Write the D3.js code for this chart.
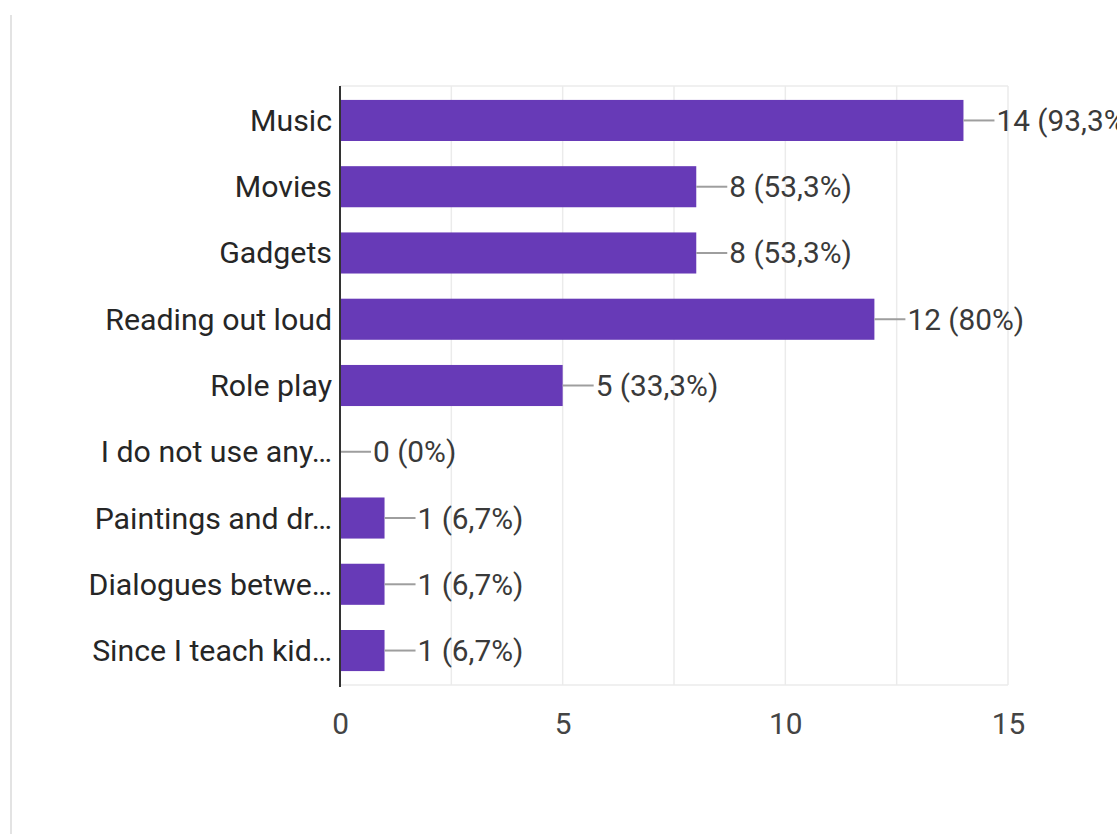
<!DOCTYPE html>
<html>
<head>
<meta charset="utf-8">
<script src="https://cdn.jsdelivr.net/npm/d3@7"></script>
<style>
  html, body { margin: 0; padding: 0; background: #fff; overflow: hidden; }
  svg { display: block; font-family: Roboto, "Noto Sans", Arial, sans-serif; }
</style>
</head>
<body>
<svg id="chart" width="1117" height="834"></svg>
<script>
// Responses per option (15 respondents in total)
const categories = [
  "Music",
  "Movies",
  "Gadgets",
  "Reading out loud",
  "Role play",
  "I do not use any\u2026",
  "Paintings and dr\u2026",
  "Dialogues betwe\u2026",
  "Since I teach kid\u2026"
];
const counts = [14, 8, 8, 12, 5, 0, 1, 1, 1];
const percentLabels = ["93,3%", "53,3%", "53,3%", "80%", "33,3%", "0%", "6,7%", "6,7%", "6,7%"];
const tickValues = [0, 5, 10, 15];
const gridValues = [0, 2.5, 5, 7.5, 10, 12.5, 15];

const rows = categories.map((c, i) => ({ cat: c, n: counts[i], pct: percentLabels[i] }));

const svg = d3.select("#chart");
const plot = { left: 340, right: 1008, top: 86, bottom: 685 };
const fontSize = 29.8;
const catFontSize = 30.3;

const x = d3.scaleLinear().domain([0, 15]).range([plot.left, plot.right]);
const y = d3.scaleBand()
  .domain(categories)
  .range([plot.top, plot.bottom])
  .paddingInner(0.38)
  .paddingOuter(0.21);

// card edge on the left
svg.append("line")
  .attr("x1", 11).attr("x2", 11)
  .attr("y1", 15).attr("y2", 834)
  .attr("stroke", "#e3e3e3").attr("stroke-width", 2);

// vertical gridlines
svg.append("g").selectAll("line")
  .data(gridValues)
  .join("line")
  .attr("x1", d => x(d)).attr("x2", d => x(d))
  .attr("y1", plot.top).attr("y2", plot.bottom)
  .attr("stroke", "#ebebeb").attr("stroke-width", 1.5);

// top and bottom frame lines
svg.append("g").selectAll("line")
  .data([plot.top, plot.bottom])
  .join("line")
  .attr("x1", plot.left).attr("x2", plot.right)
  .attr("y1", d => d).attr("y2", d => d)
  .attr("stroke", "#ebebeb").attr("stroke-width", 1.5);

// bars
svg.append("g").selectAll("rect")
  .data(rows)
  .join("rect")
  .attr("x", x(0))
  .attr("y", d => y(d.cat))
  .attr("width", d => x(d.n) - x(0))
  .attr("height", y.bandwidth())
  .attr("fill", "#673ab7");

// leader lines to the value labels
const leader = 31;
svg.append("g").selectAll("line")
  .data(rows)
  .join("line")
  .attr("x1", d => x(d.n)).attr("x2", d => x(d.n) + leader)
  .attr("y1", d => y(d.cat) + y.bandwidth() / 2)
  .attr("y2", d => y(d.cat) + y.bandwidth() / 2)
  .attr("stroke", "#9e9e9e").attr("stroke-width", 2);

// value labels
svg.append("g").selectAll("text")
  .data(rows)
  .join("text")
  .attr("x", d => x(d.n) + leader + 2)
  .attr("y", d => y(d.cat) + y.bandwidth() / 2 + 10.5)
  .attr("font-size", fontSize)
  .attr("fill", "#3a3a3a")
  .text(d => `${d.n} (${d.pct})`);

// category axis
const yAxis = d3.axisLeft(y).tickSize(0).tickPadding(8);
const gy = svg.append("g").attr("transform", `translate(${plot.left},0)`).call(yAxis);
gy.select(".domain").remove();
gy.selectAll("text")
  .attr("font-size", catFontSize)
  .attr("font-family", "Roboto, 'Noto Sans', Arial, sans-serif")
  .attr("fill", "#262626")
  .attr("dy", null)
  .attr("y", 10.5);

// baseline axis line at zero
svg.append("line")
  .attr("x1", x(0)).attr("x2", x(0))
  .attr("y1", plot.top).attr("y2", plot.bottom + 2)
  .attr("stroke", "#333").attr("stroke-width", 2);

// value axis
const xAxis = d3.axisBottom(x).tickValues(tickValues).tickSize(0).tickPadding(0).tickFormat(d3.format("d"));
const gx = svg.append("g").attr("transform", `translate(0,${plot.bottom})`).call(xAxis);
gx.select(".domain").remove();
gx.selectAll("text")
  .attr("font-size", fontSize)
  .attr("font-family", "Roboto, 'Noto Sans', Arial, sans-serif")
  .attr("fill", "#444")
  .attr("dy", null)
  .attr("y", 48.5);
</script>
</body>
</html>
